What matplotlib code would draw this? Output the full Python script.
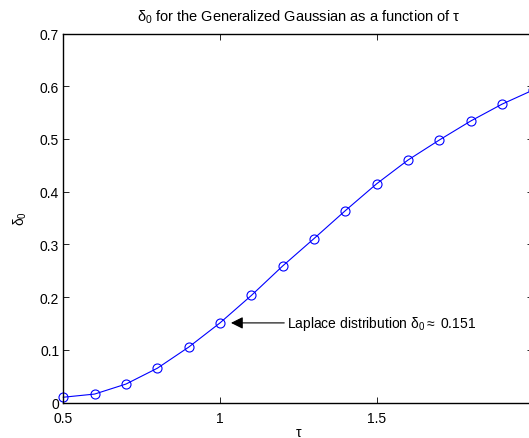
import numpy as np
import matplotlib.pyplot as plt

# Data
tau = [0.5, 0.6, 0.7, 0.8, 0.9, 1.0, 1.1, 1.2, 1.3, 1.4, 1.5, 1.6, 1.7, 1.8, 1.9, 2.0]
delta0 = [0.010, 0.016, 0.035, 0.065, 0.105, 0.151, 0.203, 0.259, 0.311, 0.364,
          0.415, 0.460, 0.498, 0.534, 0.566, 0.593]
xticks = [0.5, 1, 1.5]
xtick_labels = ["0.5", "1", "1.5"]
yticks = [0, 0.1, 0.2, 0.3, 0.4, 0.5, 0.6, 0.7]
ytick_labels = ["0", "0.1", "0.2", "0.3", "0.4", "0.5", "0.6", "0.7"]

plt.rcParams['font.family'] = ['Liberation Sans', 'DejaVu Sans']
plt.rcParams['font.size'] = 10
plt.rcParams['mathtext.fontset'] = 'custom'
plt.rcParams['mathtext.rm'] = 'Liberation Sans'
plt.rcParams['mathtext.it'] = 'Liberation Sans'

fig = plt.figure(figsize=(5.29, 4.39), dpi=100)
# axes right edge lies just past the picture border, as in the reference
ax = fig.add_axes([63.3 / 529, 35.5 / 439, (533.4 - 63.3) / 529, (403.5 - 34.5) / 439])

# Plot stuff
ax.plot(tau, delta0, '-o', color='b', linewidth=0.8, markersize=6.5,
        markerfacecolor='none', markeredgewidth=0.8, clip_on=False)

ax.set_xlim(0.5, 2.0)
ax.set_ylim(0, 0.7)
ax.set_xticks(xticks + [2.0])
ax.set_xticklabels(xtick_labels + [""])
ax.set_yticks(yticks)
ax.set_yticklabels(ytick_labels)
ax.tick_params(direction='in', length=4, width=0.6, top=True, right=True, labelsize=10)
ax.tick_params(axis='x', pad=6)
ax.tick_params(axis='y', pad=3)
for s in ax.spines.values():
    s.set_linewidth(1.0)

ax.set_xlabel(r"$\tau$", labelpad=0)
ax.set_ylabel(r"$\delta_0$", labelpad=8)
ax.set_title(r"$\delta_0$ for the Generalized Gaussian as a function of $\tau$", fontsize=10.5, pad=9)

# Annotation arrow pointing at the Laplace case
ax.annotate("", xy=(1.035, 0.151), xytext=(1.205, 0.151),
            arrowprops=dict(arrowstyle='-|>', color='k', lw=0.8,
                            mutation_scale=18, shrinkA=0, shrinkB=0))
ax.text(1.215, 0.151, r"Laplace distribution $\delta_0 \approx$ 0.151", va='center', ha='left',
        fontsize=10)

fig.savefig("out.png", dpi=100)
